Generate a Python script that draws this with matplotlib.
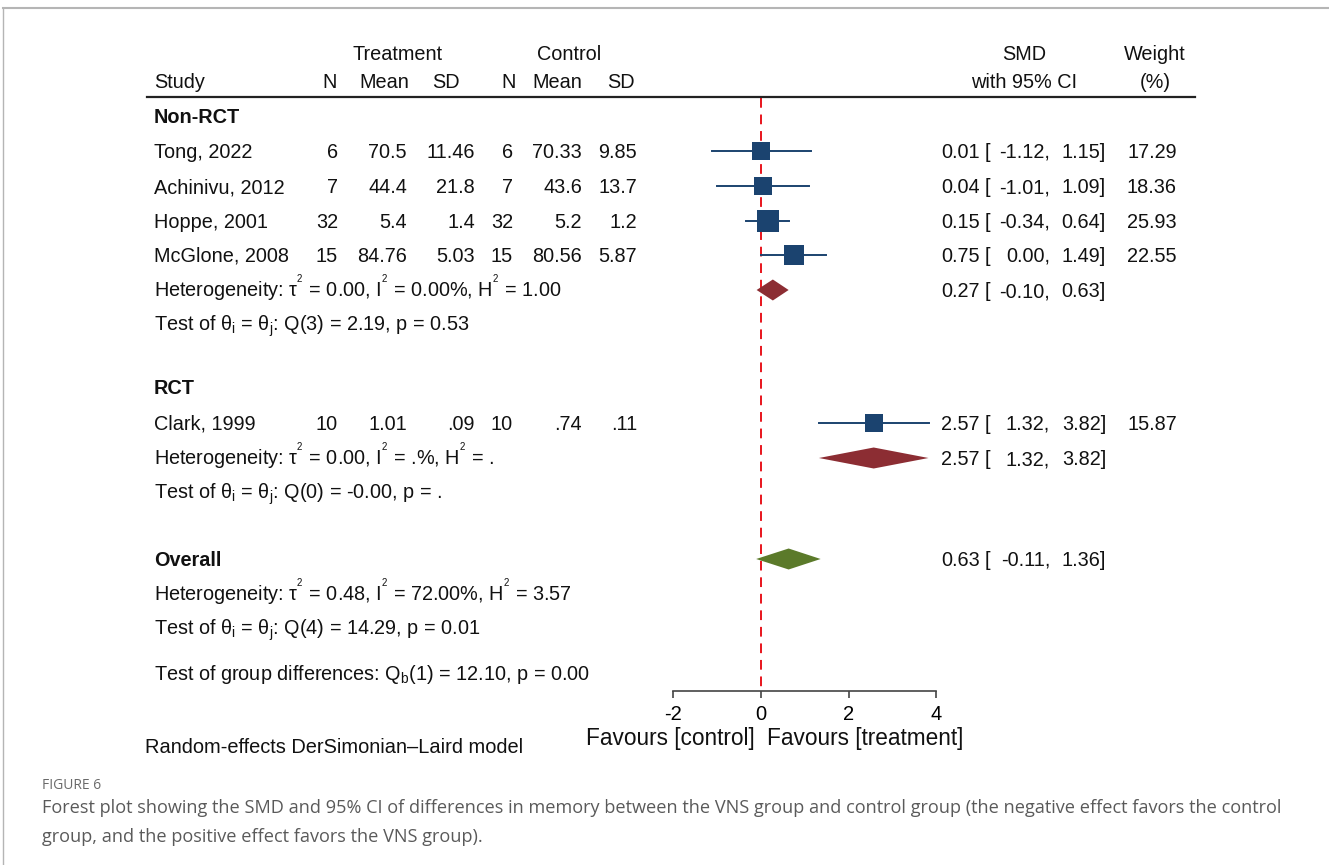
import matplotlib
matplotlib.use("Agg")
import matplotlib.pyplot as plt
from matplotlib.lines import Line2D

plt.rcParams['font.family'] = ['Liberation Sans', 'DejaVu Sans']
plt.rcParams['mathtext.fontset'] = 'custom'
plt.rcParams['mathtext.rm'] = 'Liberation Sans'
plt.rcParams['mathtext.it'] = 'Liberation Sans'

# ---------------- data ----------------
studies = ["Tong, 2022", "Achinivu, 2012", "Hoppe, 2001", "McGlone, 2008", "Clark, 1999"]
trt_n = ["6", "7", "32", "15", "10"]
trt_mean = ["70.5", "44.4", "5.4", "84.76", "1.01"]
trt_sd = ["11.46", "21.8", "1.4", "5.03", ".09"]
ctl_n = ["6", "7", "32", "15", "10"]
ctl_mean = ["70.33", "43.6", "5.2", "80.56", ".74"]
ctl_sd = ["9.85", "13.7", "1.2", "5.87", ".11"]
smd = [0.01, 0.04, 0.15, 0.75, 2.57]
ci_lo = [-1.12, -1.01, -0.34, 0.00, 1.32]
ci_hi = [1.15, 1.09, 0.64, 1.49, 3.82]
weight = [17.29, 18.36, 25.93, 22.55, 15.87]

pooled_names = ["Non-RCT", "RCT", "Overall"]
pooled_est = [0.27, 2.57, 0.63]
pooled_lo = [-0.10, 1.32, -0.11]
pooled_hi = [0.63, 3.82, 1.36]

het_text = [r"Heterogeneity: τ$^{^2}$ = 0.00, I$^{^2}$ = 0.00%, H$^{^2}$ = 1.00",
            r"Heterogeneity: τ$^{^2}$ = 0.00, I$^{^2}$ = .%, H$^{^2}$ = .",
            r"Heterogeneity: τ$^{^2}$ = 0.48, I$^{^2}$ = 72.00%, H$^{^2}$ = 3.57"]
test_text = [r"Test of θ$_\mathregular{i}$ = θ$_\mathregular{j}$: Q(3) = 2.19, p = 0.53",
             r"Test of θ$_\mathregular{i}$ = θ$_\mathregular{j}$: Q(0) = -0.00, p = .",
             r"Test of θ$_\mathregular{i}$ = θ$_\mathregular{j}$: Q(4) = 14.29, p = 0.01"]
group_test = r"Test of group differences: Q$_\mathregular{b}$(1) = 12.10, p = 0.00"
xticks = [-2, 0, 2, 4]

# ---------------- layout ----------------
W, H = 1329, 865
fig = plt.figure(figsize=(W / 100, H / 100), dpi=100)
ax = fig.add_axes([0, 0, 1, 1])
X0, SC = 761.0, 43.85          # pixel of 0, pixels per unit


def px(p):
    return (p - X0) / SC


ax.set_xlim(px(0), px(W))
ax.set_ylim(H, 0)
for s in ["top", "left", "right"]:
    ax.spines[s].set_visible(False)
AXIS_Y = 691
ax.spines["bottom"].set_position(("data", AXIS_Y))
ax.spines["bottom"].set_bounds(xticks[0], xticks[-1])
ax.spines["bottom"].set_color("#444444")
ax.spines["bottom"].set_linewidth(1.2)
ax.set_xticks(xticks)
ax.set_xticklabels([str(t) for t in xticks])
ax.tick_params(axis="x", direction="out", length=5, width=1.2, color="#444444",
               pad=5, labelsize=14.5)
ax.set_yticks([])

TXT = "#111111"
FS = 14.3
NAVY = "#1b436f"
RED = "#8c2d33"
GREEN = "#5b7a2a"


def t(xp, y, s, ha="left", **kw):
    kw.setdefault("fontsize", FS)
    kw.setdefault("color", TXT)
    ax.text(px(xp), y + 7, s, ha=ha, va="baseline", **kw)


# header
t(398, 53, "Treatment", ha="center")
t(569, 53, "Control", ha="center")
t(1024, 53, "SMD", ha="center")
t(1155, 53, "Weight", ha="center")
t(154, 81, "Study")
for xc, lab in zip([330, 384, 446, 509, 557, 621], ["N", "Mean", "SD", "N", "Mean", "SD"]):
    t(xc, 81, lab, ha="center")
t(1024, 81, "with 95% CI", ha="center")
t(1155, 81, "(%)", ha="center")
ax.plot([px(147), px(1195)], [97, 97], color="#222222", lw=1.6)

# null line
ax.vlines(0, 98, AXIS_Y, colors="#e8141c", linestyles=(0, (5, 3.5)), lw=1.4, zorder=1)

study_y = [151, 186, 221, 255, 423]
group_y = [116, 387, 559]
het_y = [290, 458, 594]
test_y = [324, 492, 628]

cols_x = [338, 407, 475, 513, 582, 637]
cols = [trt_n, trt_mean, trt_sd, ctl_n, ctl_mean, ctl_sd]


def ci_text(y, e, lo, hi, w=None):
    t(980, y, f"{e:.2f}", ha="right")
    t(985, y, "[")
    t(1050, y, f"{lo:.2f},", ha="right")
    t(1106, y, f"{hi:.2f}]", ha="right")
    if w is not None:
        t(1177, y, f"{w:.2f}", ha="right")


for i, name in enumerate(studies):
    y = study_y[i]
    t(154, y, name)
    for cx, col in zip(cols_x, cols):
        t(cx, y, col[i], ha="right")
    ax.plot([ci_lo[i], ci_hi[i]], [y, y], color=NAVY, lw=1.4, zorder=3)
    side_px = 4.33 * weight[i] ** 0.5
    ax.scatter([smd[i]], [y], marker="s", s=(side_px * 0.72) ** 2, color=NAVY,
               zorder=4, linewidths=0)
    ci_text(y, smd[i], ci_lo[i], ci_hi[i], weight[i])

colors = [RED, RED, GREEN]
for j, name in enumerate(pooled_names):
    t(154, group_y[j], name, fontweight="bold")
    dy = het_y[j] if name != "Overall" else group_y[j]
    hh = 10.5
    ax.fill([pooled_lo[j], pooled_est[j], pooled_hi[j], pooled_est[j]],
            [dy, dy - hh, dy, dy + hh], color=colors[j], lw=0, zorder=3)
    ci_text(dy, pooled_est[j], pooled_lo[j], pooled_hi[j])
    t(154, het_y[j], het_text[j])
    t(154, test_y[j], test_text[j])

t(154, 673, group_test)

# favours labels and model note
ax.text(px(755), 738 + 7.5, "Favours [control]", ha="right", va="baseline", fontsize=16.3, color=TXT)
ax.text(px(767), 738 + 7.5, "Favours [treatment]", ha="left", va="baseline", fontsize=16.3, color=TXT)
t(145, 746, "Random-effects DerSimonian\u2013Laird model", fontsize=14.4)

# frame
fig.add_artist(Line2D([3 / W, 1], [1 - 8 / H, 1 - 8 / H], color="#b5b5b5", lw=1.5))
fig.add_artist(Line2D([3 / W, 3 / W], [0, 1 - 8 / H], color="#b5b5b5", lw=1.0))

# caption
fig.text(42 / W, 1 - 789 / H, "FIGURE 6", fontsize=10, color="#6a6a6a",
         family=["Open Sans", "DejaVu Sans"], va="baseline")
fig.text(42 / W, 1 - 813 / H,
         "Forest plot showing the SMD and 95% CI of differences in memory between the VNS group and control group (the negative effect favors the control",
         fontsize=13.05, color="#5a5a5a", family=["Open Sans", "DejaVu Sans"], va="baseline")
fig.text(42 / W, 1 - 842 / H, "group, and the positive effect favors the VNS group).",
         fontsize=13.05, color="#5a5a5a", family=["Open Sans", "DejaVu Sans"], va="baseline")

fig.savefig("out.png", dpi=100)
